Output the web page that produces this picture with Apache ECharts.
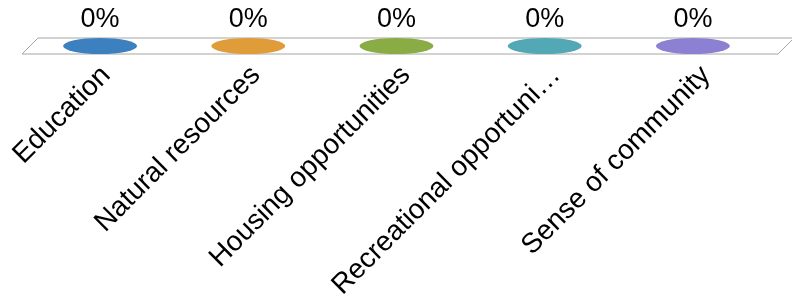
<!DOCTYPE html>
<html>
<head>
<meta charset="utf-8">
<script src="https://cdn.jsdelivr.net/npm/echarts@6/dist/echarts.min.js"></script>
<style>
  html, body { margin: 0; padding: 0; background: #fff; }
  #chart { width: 792px; height: 302px; }
</style>
</head>
<body>
<div id="chart"></div>
<script>
  // data
  var categories = ['Education', 'Natural resources', 'Housing opportunities', 'Recreational opportuni\u2026', 'Sense of community'];
  var values = [0, 0, 0, 0, 0];
  var colors = ['#3d80bf', '#df9c38', '#8aac44', '#52a8b5', '#8b80d2'];

  var myChart = echarts.init(document.getElementById('chart'));
  var font = '"Liberation Sans", Arial, sans-serif';

  var option = {
    animation: false,
    grid: [
      // bars / floor
      { left: 26, right: 25, top: 38, height: 16 },
      // labels sit a bit to the right of the bars (excel 3d look)
      { left: 31, right: 11, top: 38, height: 16 }
    ],
    xAxis: [
      {
        type: 'category', gridIndex: 0, data: categories,
        axisLine: { show: false }, axisTick: { show: false }, axisLabel: { show: false }
      },
      {
        type: 'category', gridIndex: 1, data: categories,
        axisLine: { show: false }, axisTick: { show: false },
        axisLabel: {
          interval: 0, rotate: 45, margin: 23,
          fontSize: 28, fontFamily: font, color: '#000'
        }
      }
    ],
    yAxis: [
      { type: 'value', gridIndex: 0, min: 0, max: 1, show: false },
      { type: 'value', gridIndex: 1, min: 0, max: 1, show: false }
    ],
    series: [
      {
        // floor of the 3d plot
        type: 'custom',
        xAxisIndex: 0, yAxisIndex: 0,
        data: [0],
        silent: true,
        z: 1,
        renderItem: function (params, api) {
          var cs = params.coordSys;
          var x0 = cs.x, x1 = cs.x + cs.width, yb = cs.y + cs.height, yt = cs.y;
          return {
            type: 'polygon',
            shape: { points: [[x0 - 4, yb], [x1 + 11, yb], [x1 + 27, yt], [x0 + 12, yt]] },
            style: { fill: '#fff', stroke: '#a6a6a6', lineWidth: 1 }
          };
        }
      },
      {
        type: 'custom',
        xAxisIndex: 0, yAxisIndex: 0,
        z: 2,
        renderItem: function (params, api) {
          var p = api.coord([api.value(0), api.value(1)]);
          var cs = params.coordSys;
          var cy = p[1] - cs.height / 2;
          return {
            type: 'group',
            children: [
              {
                type: 'circle',
                x: p[0], y: cy, scaleY: 8 / 37,
                shape: { cx: 0, cy: 0, r: 37 },
                style: { fill: colors[params.dataIndex] }
              },
              {
                type: 'text',
                x: p[0], y: p[1] - 21,
                style: {
                  text: api.value(1) + '%',
                  fontSize: 27, fontFamily: font, fill: '#000',
                  align: 'center', verticalAlign: 'bottom'
                }
              }
            ]
          };
        },
        encode: { x: 0, y: 1 }
      }
    ]
  };

  // custom series needs [index, value] pairs
  option.series[1].data = values.map(function (v, i) { return [i, v]; });
  myChart.setOption(option);
</script>
</body>
</html>
